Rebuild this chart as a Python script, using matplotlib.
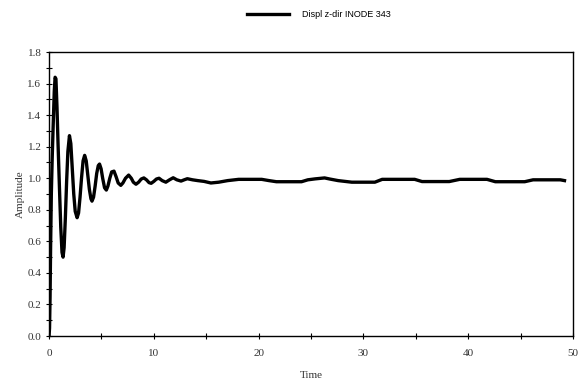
import matplotlib
matplotlib.use("Agg")
import matplotlib.pyplot as plt
from matplotlib.ticker import MultipleLocator

# values
time = [0.0, 0.05, 0.1, 0.15, 0.22, 0.3, 0.39, 0.5, 0.58, 0.66, 0.76, 0.86,
        1.0, 1.12, 1.24, 1.34, 1.44, 1.56, 1.68, 1.8, 1.95, 2.08, 2.22, 2.36,
        2.5, 2.68, 2.82, 2.96, 3.1, 3.25, 3.4, 3.55, 3.7, 3.85, 4.0, 4.1,
        4.25, 4.4, 4.55, 4.7, 4.82, 4.97, 5.12, 5.3, 5.47, 5.62, 5.8, 5.98,
        6.2, 6.4, 6.6, 6.85, 7.05, 7.3, 7.6, 7.85, 8.05, 8.3, 8.55, 8.8,
        9.05, 9.3, 9.55, 9.75, 10.0, 10.25, 10.5, 10.8, 11.15, 11.5, 11.85,
        12.2, 12.6, 12.9, 13.2, 13.7, 14.2, 14.8, 15.45, 16.2, 17.05, 18.1,
        20.3, 21.0, 21.7, 24.1, 24.7, 25.4, 26.3, 26.8, 27.6, 28.9, 31.1,
        31.8, 34.9, 35.6, 38.2, 39.2, 41.8, 42.6, 45.4, 46.2, 48.8, 49.2]
amplitude = [0.0, 0.05, 0.25, 0.56, 0.90, 1.12, 1.32, 1.55, 1.64, 1.63, 1.45, 1.22,
             0.93, 0.69, 0.53, 0.50, 0.56, 0.75, 0.98, 1.17, 1.27, 1.22, 1.06, 0.90,
             0.79, 0.75, 0.78, 0.88, 1.00, 1.11, 1.145, 1.11, 1.02, 0.93, 0.87, 0.855,
             0.88, 0.95, 1.03, 1.08, 1.09, 1.06, 1.00, 0.94, 0.925, 0.95, 1.00, 1.04,
             1.045, 1.01, 0.97, 0.955, 0.97, 1.00, 1.02, 1.00, 0.975, 0.962, 0.975, 0.995,
             1.002, 0.99, 0.972, 0.968, 0.98, 0.995, 1.0, 0.985, 0.975, 0.99, 1.003,
             0.99, 0.982, 0.99, 0.997, 0.99, 0.985, 0.98, 0.97, 0.975, 0.985, 0.993,
             0.993, 0.985, 0.978, 0.978, 0.99, 0.996, 1.002, 0.995, 0.985, 0.975, 0.975,
             0.993, 0.993, 0.979, 0.979, 0.993, 0.993, 0.978, 0.978, 0.99, 0.99, 0.985]

serif = "Liberation Serif"
txt_color = "#333333"

fig = plt.figure(figsize=(5.85, 3.81), dpi=100)
ax = fig.add_axes([0.0838, 0.118, 0.8955, 0.7455])

ax.plot(time, amplitude, color="black", linewidth=2.4, label="Displ z-dir INODE 343")

ax.set_xlim(0, 50)
ax.set_ylim(0, 1.8)
ax.xaxis.set_major_locator(MultipleLocator(10))
ax.xaxis.set_minor_locator(MultipleLocator(5))
ax.yaxis.set_major_locator(MultipleLocator(0.2))
ax.yaxis.set_minor_locator(MultipleLocator(0.1))
ax.yaxis.set_major_formatter(lambda v, p: f"{v:.1f}")

ax.tick_params(which="both", direction="inout", length=5, width=0.8,
               labelsize=8, labelcolor=txt_color)
ax.tick_params(axis="x", pad=7)
ax.tick_params(axis="y", pad=3)
for lab in ax.get_xticklabels() + ax.get_yticklabels():
    lab.set_family(serif)

for s in ax.spines.values():
    s.set_linewidth(1.0)

ax.set_xlabel("Time", family=serif, fontsize=8, color=txt_color, labelpad=9)
ax.set_ylabel("Amplitude", family=serif, fontsize=8, color=txt_color, labelpad=2)

fig.legend(loc="upper center", bbox_to_anchor=(0.545, 0.995), frameon=False,
           handlelength=4.7, handletextpad=1.4,
           prop={"family": "Liberation Sans", "size": 6.5})

fig.savefig("out.png", dpi=100)
